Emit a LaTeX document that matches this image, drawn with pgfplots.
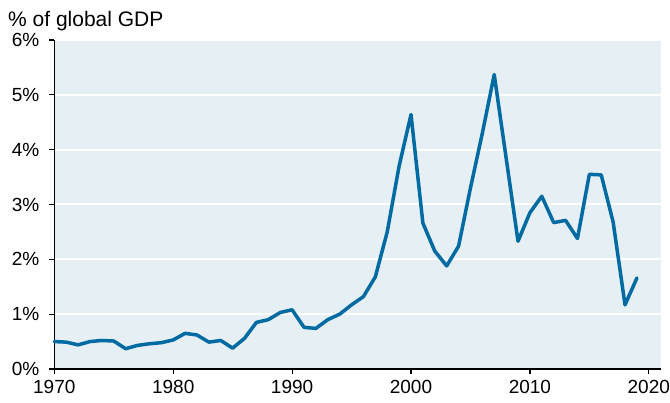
\documentclass[border=0pt]{standalone}
\usepackage{fontspec}
\setmainfont{Liberation Sans}
\usepackage{pgfplots}
\pgfplotsset{compat=1.18}
\definecolor{bgpanel}{HTML}{E6EFF3}
\definecolor{lineblue}{HTML}{006BA2}
\begin{document}
\begin{tikzpicture}[x=1pt,y=1pt]
\useasboundingbox (-54.3,-34) rectangle (615.7,369);
\begin{axis}[
  at={(0,0)}, anchor=south west,
  scale only axis, width=606.4pt, height=329pt,
  xmin=1970, xmax=2021, ymin=0, ymax=6,
  axis x line*=bottom, axis y line*=left,
  axis line style={black, line width=1.2pt, -},
  axis background/.style={fill=bgpanel},
  xtick={1970,1980,1990,2000,2010,2020},
  ytick={0,1,2,3,4,5,6},
  /pgf/number format/1000 sep={},
  /pgf/number format/assume math mode=true,
  yticklabel={\pgfmathprintnumber{\tick}\%},
  tick label style={font=\fontsize{19}{22}\selectfont, black},
  yticklabel style={xshift=-6pt},
  xticklabel style={yshift=-2pt},
  tick align=outside,
  major tick length=5.5pt,
  tick style={black, line width=1.2pt},
  ymajorgrids,
  major grid style={white, line width=2pt},
  clip=false,
]
\addplot[lineblue, line width=3.5pt, line join=round, line cap=round] coordinates {
(1970,0.50) (1971,0.49) (1972,0.44) (1973,0.50) (1974,0.52) (1975,0.51)
(1976,0.37) (1977,0.43) (1978,0.46) (1979,0.48) (1980,0.53) (1981,0.65)
(1982,0.62) (1983,0.49) (1984,0.52) (1985,0.38) (1986,0.56) (1987,0.85)
(1988,0.90) (1989,1.03) (1990,1.08) (1991,0.76) (1992,0.74) (1993,0.90)
(1994,1.00) (1995,1.17) (1996,1.32) (1997,1.68) (1998,2.50) (1999,3.70)
(2000,4.64) (2001,2.66) (2002,2.15) (2003,1.88) (2004,2.24) (2005,3.30)
(2006,4.30) (2007,5.37) (2008,3.85) (2009,2.33) (2010,2.85) (2011,3.15)
(2012,2.67) (2013,2.71) (2014,2.38) (2015,3.55) (2016,3.54) (2017,2.68)
(2018,1.17) (2019,1.66)
};
\end{axis}
\node[anchor=base west, inner sep=0pt, font=\fontsize{21}{24}\selectfont] at (-46.3,342) {\% of global GDP};
\end{tikzpicture}
\end{document}
